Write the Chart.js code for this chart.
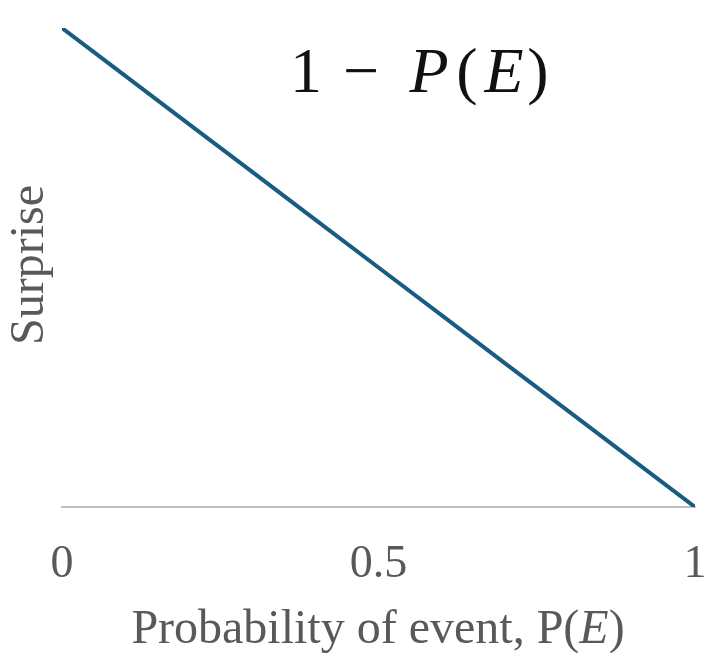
<!DOCTYPE html>
<html>
<head>
<meta charset="utf-8">
<script src="https://cdn.jsdelivr.net/npm/chart.js@4"></script>
<style>
  html, body { margin: 0; padding: 0; background: #fff; }
  #surprise { display: block; }
</style>
</head>
<body>
<canvas id="surprise" width="704" height="653"></canvas>
<script>
// P(E) along the bottom, surprise = 1 - P(E) up the side
const probability = [0, 0.1, 0.2, 0.3, 0.4, 0.5, 0.6, 0.7, 0.8, 0.9, 1];
const surprise    = [1, 0.9, 0.8, 0.7, 0.6, 0.5, 0.4, 0.3, 0.2, 0.1, 0];
const xTicks = [0, 0.5, 1];
const xTickLabels = ['0', '0.5', '1'];

const serif = "'Liberation Serif', serif";
const grey = '#595959';

function fontOf(size, italic) {
  return (italic ? 'italic ' : 'normal ') + size + 'px ' + serif;
}

// draws a row of [text, italic] pieces centred on cx
function mixedText(ctx, parts, cx, y, size) {
  let widths = parts.map(([t, it]) => {
    ctx.font = fontOf(size, it);
    return ctx.measureText(t).width;
  });
  let x = cx - widths.reduce((a, b) => a + b, 0) / 2;
  parts.forEach(([t, it], i) => {
    ctx.font = fontOf(size, it);
    ctx.fillText(t, x, y);
    x += widths[i];
  });
}

const labels = {
  id: 'labels',
  afterDraw(chart) {
    const ctx = chart.ctx;
    ctx.save();
    ctx.fillStyle = grey;
    ctx.textBaseline = 'alphabetic';
    ctx.textAlign = 'left';

    // x axis title
    mixedText(ctx, [['Probability of event, P(', false], ['E', true], [')', false]], 378, 643, 48);

    // y axis title
    ctx.save();
    ctx.translate(43, 265);
    ctx.rotate(-Math.PI / 2);
    ctx.textAlign = 'center';
    ctx.font = fontOf(48, false);
    ctx.fillText('Surprise', 0, 0);
    ctx.restore();

    // formula in the top right, glyph by glyph
    ctx.fillStyle = '#111111';
    ctx.textAlign = 'center';
    const glyphs = [['1', false, 306], ['\u2212', false, 361], ['P', true, 429],
                    ['(', false, 467], ['E', true, 504], [')', false, 538]];
    glyphs.forEach(([t, it, cx]) => {
      ctx.font = fontOf(64, it);
      ctx.fillText(t, cx, 92);
    });
    ctx.restore();
  }
};

new Chart(document.getElementById('surprise'), {
  type: 'line',
  data: {
    datasets: [{
      data: probability.map((p, i) => ({ x: p, y: surprise[i] })),
      borderColor: '#185c82',
      borderWidth: 4,
      pointRadius: 0,
      tension: 0,
      fill: false
    }]
  },
  options: {
    responsive: false,
    animation: false,
    layout: { padding: { left: 62, right: 9, top: 28, bottom: 0 } },
    plugins: { legend: { display: false }, tooltip: { enabled: false }, title: { display: false } },
    scales: {
      x: {
        type: 'linear',
        min: 0,
        max: 1,
        afterBuildTicks: scale => { scale.ticks = xTicks.map(v => ({ value: v })); },
        afterFit: scale => {
          scale.height = 653 - 507;
          scale.paddingLeft = 0;
          scale.paddingRight = 0;
        },
        grid: { display: false, drawTicks: false },
        border: { display: true, color: '#bfbfbf', width: 2 },
        ticks: {
          padding: 30,
          color: grey,
          font: { family: serif, size: 46 },
          callback: (v, i) => xTickLabels[i]
        }
      },
      y: {
        min: 0,
        max: 1,
        display: false
      }
    }
  },
  plugins: [labels]
});
</script>
</body>
</html>
